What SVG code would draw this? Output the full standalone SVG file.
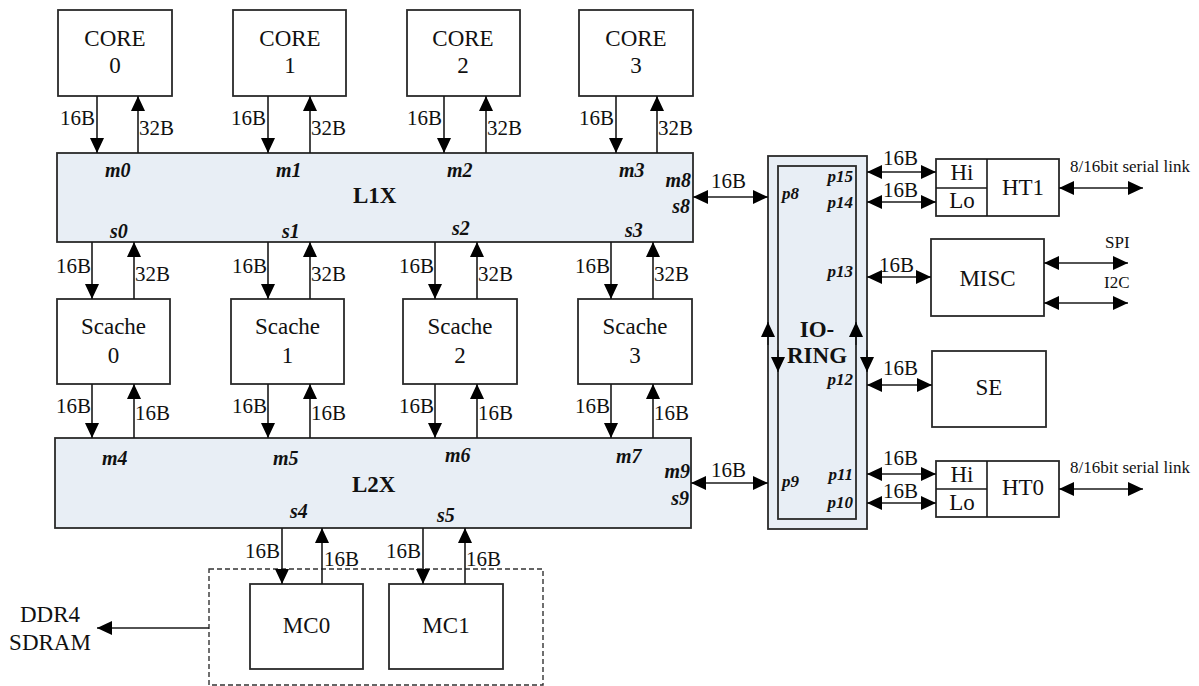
<svg xmlns="http://www.w3.org/2000/svg" width="1199" height="686" viewBox="0 0 1199 686" font-family="'Times New Roman','Liberation Serif',serif">
<style>
text{font-family:'Times New Roman','Liberation Serif',serif;fill:#111}
.box{fill:#fff;stroke:#2a2a2a;stroke-width:1.8}
.bus{fill:#e8eef5;stroke:#2a2a2a;stroke-width:1.8}
.n{font-size:23px;text-anchor:middle}
.b text{font-size:21px}
.e{text-anchor:end}
.lab{font-size:20px;font-weight:bold;font-style:italic}
.p{font-size:17px;font-weight:bold;font-style:italic}
.t{font-size:23px;font-weight:bold}
.s{font-size:17px}
.ln{stroke:#1a1a1a;stroke-width:1.6;fill:none}
.a{marker-end:url(#ah)}
.d{marker-start:url(#ah);marker-end:url(#ah)}
</style>
<defs>
<marker id="ah" markerUnits="userSpaceOnUse" markerWidth="15" markerHeight="14" refX="15" refY="7" orient="auto-start-reverse" viewBox="0 0 15 14">
<path d="M0,0 L15,7 L0,14 z" fill="#000"/>
</marker>
</defs>
<rect width="1199" height="686" fill="#fff"/>

<g id="core0"><rect class="box" x="58" y="10" width="114" height="86"/><text class="n" x="115" y="46">CORE</text><text class="n" x="115" y="73">0</text></g>
<g id="core1"><rect class="box" x="233" y="10" width="113" height="86"/><text class="n" x="290" y="46">CORE</text><text class="n" x="290" y="73">1</text></g>
<g id="core2"><rect class="box" x="407" y="10" width="113" height="86"/><text class="n" x="463" y="46">CORE</text><text class="n" x="463" y="73">2</text></g>
<g id="core3"><rect class="box" x="579" y="10" width="114" height="86"/><text class="n" x="636" y="46">CORE</text><text class="n" x="636" y="73">3</text></g>

<g id="l1x"><rect class="bus" x="57" y="153" width="636" height="89"/>
<text class="lab" x="105" y="177">m0</text><text class="lab" x="276" y="177">m1</text><text class="lab" x="447" y="177">m2</text><text class="lab" x="619" y="177">m3</text>
<text class="lab e" x="691" y="187">m8</text><text class="lab e" x="690" y="213">s8</text>
<text class="t" x="353" y="203">L1X</text>
<text class="lab" x="110" y="238">s0</text><text class="lab" x="282" y="238">s1</text><text class="lab" x="452" y="235">s2</text><text class="lab" x="625" y="237">s3</text>
</g>

<g id="scache0"><rect class="box" x="57" y="299" width="113" height="85"/><text class="n" x="113.5" y="334">Scache</text><text class="n" x="113.5" y="363">0</text></g>
<g id="scache1"><rect class="box" x="231" y="299" width="113" height="85"/><text class="n" x="287.5" y="334">Scache</text><text class="n" x="287.5" y="363">1</text></g>
<g id="scache2"><rect class="box" x="403" y="299" width="114" height="85"/><text class="n" x="460" y="334">Scache</text><text class="n" x="460" y="363">2</text></g>
<g id="scache3"><rect class="box" x="578" y="299" width="114" height="85"/><text class="n" x="635" y="334">Scache</text><text class="n" x="635" y="363">3</text></g>

<g id="l2x"><rect class="bus" x="55" y="438" width="636" height="90"/>
<text class="lab" x="102" y="465">m4</text><text class="lab" x="273" y="465">m5</text><text class="lab" x="445" y="462">m6</text><text class="lab" x="616" y="463">m7</text>
<text class="lab e" x="690" y="478">m9</text><text class="lab e" x="689" y="505">s9</text>
<text class="t" x="352" y="492">L2X</text>
<text class="lab" x="290" y="518">s4</text><text class="lab" x="437" y="522">s5</text>
</g>

<g id="mcgroup"><rect x="209" y="569" width="334" height="116" fill="none" stroke="#333" stroke-width="1.4" stroke-dasharray="5,3"/></g>
<g id="mc0"><rect class="box" x="250" y="584" width="113" height="85"/><text class="n" x="306.5" y="633">MC0</text></g>
<g id="mc1"><rect class="box" x="389" y="584" width="114" height="85"/><text class="n" x="446" y="633">MC1</text></g>

<g id="ddr"><text class="n" x="50" y="622">DDR4</text><text class="n" x="50" y="650">SDRAM</text></g>

<g id="ioring">
<rect class="bus" x="768" y="156" width="99" height="373"/>
<rect class="bus" x="778" y="166" width="78" height="353"/>
<text class="t" x="817" y="337" text-anchor="middle">IO-</text>
<text class="t" x="817" y="363" text-anchor="middle">RING</text>
<text class="p" x="782" y="199">p8</text><text class="p" x="782" y="487">p9</text>
<text class="p e" x="853" y="182">p15</text><text class="p e" x="853" y="208">p14</text><text class="p e" x="853" y="277">p13</text><text class="p e" x="853" y="385">p12</text><text class="p e" x="853" y="480">p11</text><text class="p e" x="853" y="508">p10</text>
</g>

<g id="ht1"><rect class="box" x="936" y="159" width="123" height="57"/><path class="ln" d="M987,159 V216 M936,188 H987" stroke-width="1.8"/>
<text class="n" x="962" y="180">Hi</text><text class="n" x="962" y="208">Lo</text><text class="n" x="1023" y="195">HT1</text></g>
<g id="misc"><rect class="box" x="931" y="239" width="113" height="77"/><text class="n" x="987.5" y="286">MISC</text></g>
<g id="se"><rect class="box" x="932" y="351" width="114" height="76"/><text class="n" x="989" y="395">SE</text></g>
<g id="ht0"><rect class="box" x="936" y="461" width="123" height="56"/><path class="ln" d="M987,461 V517 M936,489 H987" stroke-width="1.8"/>
<text class="n" x="962" y="482">Hi</text><text class="n" x="962" y="510">Lo</text><text class="n" x="1023" y="495">HT0</text></g>

<g id="connectors">
<path class="ln a" d="M97,96 V153"/><path class="ln a" d="M138,153 V96"/>
<path class="ln a" d="M268,96 V153"/><path class="ln a" d="M310,153 V96"/>
<path class="ln a" d="M444,96 V153"/><path class="ln a" d="M486,153 V96"/>
<path class="ln a" d="M616,96 V153"/><path class="ln a" d="M657,153 V96"/>
<path class="ln a" d="M92,242 V299"/><path class="ln a" d="M134,299 V242"/>
<path class="ln a" d="M268,242 V299"/><path class="ln a" d="M310,299 V242"/>
<path class="ln a" d="M435,242 V299"/><path class="ln a" d="M477,299 V242"/>
<path class="ln a" d="M611,242 V299"/><path class="ln a" d="M653,299 V242"/>
<path class="ln a" d="M92,384 V438"/><path class="ln a" d="M134,438 V384"/>
<path class="ln a" d="M268,384 V438"/><path class="ln a" d="M310,438 V384"/>
<path class="ln a" d="M435,384 V438"/><path class="ln a" d="M477,438 V384"/>
<path class="ln a" d="M611,384 V438"/><path class="ln a" d="M653,438 V384"/>
<path class="ln a" d="M282,528 V584"/><path class="ln a" d="M322,584 V528"/>
<path class="ln a" d="M423,528 V584"/><path class="ln a" d="M465,584 V528"/>
<path class="ln a" d="M209,628 H97"/>
<path class="ln d" d="M693,197 H768"/>
<path class="ln d" d="M691,483 H768"/>
<path class="ln d" d="M867,172 H936"/>
<path class="ln d" d="M867,202 H936"/>
<path class="ln d" d="M867,277 H931"/>
<path class="ln d" d="M867,385 H932"/>
<path class="ln d" d="M867,474 H936"/>
<path class="ln d" d="M867,503 H936"/>
<path class="ln d" d="M1059,188 H1143"/>
<path class="ln d" d="M1059,489 H1143"/>
<path class="ln d" d="M1044,263 H1128"/>
<path class="ln d" d="M1044,303 H1128"/>
<path class="ln a" d="M768,345 V322"/>
<path class="ln a" d="M856,345 V322"/>
<path class="ln a" d="M778,350 V372"/>
<path class="ln a" d="M867,350 V372"/>
<g class="b">
<text class="e" x="95" y="125">16B</text><text x="139" y="135">32B</text>
<text class="e" x="266" y="125">16B</text><text x="311" y="135">32B</text>
<text class="e" x="442" y="125">16B</text><text x="487" y="135">32B</text>
<text class="e" x="614" y="125">16B</text><text x="658" y="135">32B</text>
<text class="e" x="91" y="273">16B</text><text x="135" y="281">32B</text>
<text class="e" x="267" y="273">16B</text><text x="311" y="281">32B</text>
<text class="e" x="434" y="273">16B</text><text x="478" y="281">32B</text>
<text class="e" x="610" y="273">16B</text><text x="654" y="281">32B</text>
<text class="e" x="91" y="413">16B</text><text x="135" y="420">16B</text>
<text class="e" x="267" y="413">16B</text><text x="311" y="420">16B</text>
<text class="e" x="434" y="413">16B</text><text x="478" y="420">16B</text>
<text class="e" x="610" y="413">16B</text><text x="654" y="420">16B</text>
<text class="e" x="280" y="558">16B</text><text x="324" y="566">16B</text>
<text class="e" x="421" y="558">16B</text><text x="466" y="566">16B</text>
<text x="711" y="188">16B</text>
<text x="711" y="477">16B</text>
<text x="883" y="165">16B</text><text x="883" y="197">16B</text>
<text x="879" y="272">16B</text>
<text x="883" y="375">16B</text>
<text x="883" y="465">16B</text><text x="883" y="498">16B</text>
</g>
<text class="s" x="1070" y="172">8/16bit serial link</text>
<text class="s" x="1070" y="473">8/16bit serial link</text>
<text class="s" x="1105" y="248">SPI</text>
<text class="s" x="1104" y="288">I2C</text>
</g>
</svg>
